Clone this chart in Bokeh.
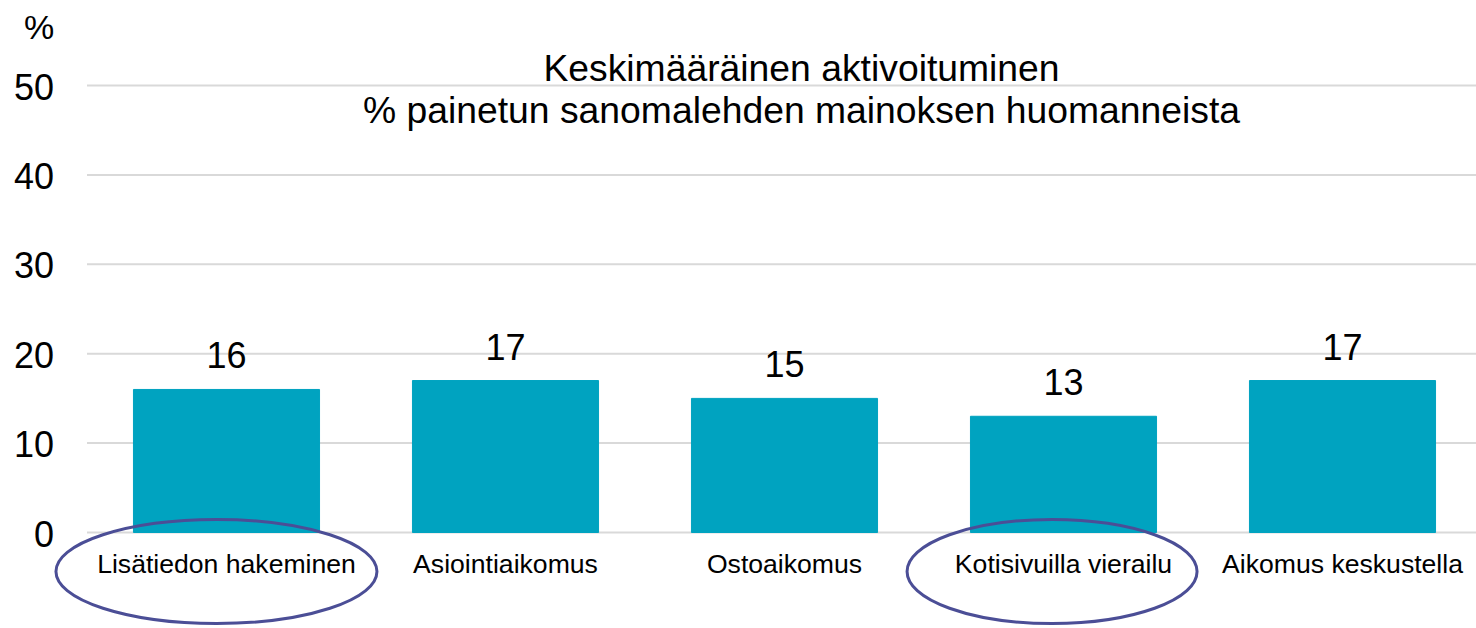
from bokeh.plotting import figure
from bokeh.models import ColumnDataSource, Range1d
from bokeh.core.properties import value
from bokeh.embed import file_html
from bokeh.resources import INLINE

# ---- data ----
categories = ["Lisätiedon hakeminen", "Asiointiaikomus", "Ostoaikomus",
              "Kotisivuilla vierailu", "Aikomus keskustella"]
values = [16, 17, 15, 13, 17]
y_ticks = [0, 10, 20, 30, 40, 50]
title_lines = ["Keskimääräinen aktivoituminen",
               "% painetun sanomalehden mainoksen huomanneista"]
y_unit = "%"
highlighted = ["Lisätiedon hakeminen", "Kotisivuilla vierailu"]

# ---- style ----
FONT = value("Liberation Sans")
BAR = "#00A3C0"
GRID = "#D9D9D9"
RING = "#4B4E96"

W, H = 1476, 628
LEFT, TOP, BOTTOM = 86.5, 85, 96        # pixel margins of the category/value area
px_per_cat = 279.0
ymax = y_ticks[-1]
px_per_y = (H - TOP - BOTTOM) / ymax
x_start = -LEFT / px_per_cat
x_end = x_start + W / px_per_cat

p = figure(width=W, height=H,
           x_range=Range1d(x_start, x_end),
           y_range=Range1d(-BOTTOM / px_per_y, ymax + TOP / px_per_y),
           output_backend="svg", toolbar_location=None,
           min_border=0)
p.axis.visible = False
p.grid.visible = False
p.outline_line_color = None
p.background_fill_color = "white"
p.border_fill_color = "white"

xpos = [i + 0.5 for i in range(len(categories))]

# horizontal gridlines
p.segment(x0=[0] * len(y_ticks), x1=[x_end] * len(y_ticks),
          y0=y_ticks, y1=y_ticks, line_color=GRID, line_width=2)

# y tick labels
p.text(x=[0] * len(y_ticks), y=y_ticks, text=[str(t) for t in y_ticks],
       x_offset=-33, y_offset=1, text_align="right", text_baseline="middle",
       text_font=FONT, text_font_size="36px", text_color="black")

# unit label
p.text(x=[0], y=[ymax], text=[y_unit], x_offset=-63, y_offset=-59,
       text_align="left", text_baseline="middle",
       text_font=FONT, text_font_size="34px", text_color="black")

# bars and value labels
src = ColumnDataSource(dict(x=xpos, val=values, lbl=[str(v) for v in values], cat=categories))
p.vbar(x="x", top="val", width=0.667, color=BAR, source=src)
p.text(x="x", y="val", text="lbl", source=src,
       text_align="center", text_baseline="middle", y_offset=-34,
       text_font=FONT, text_font_size="36px", text_color="black")

# category labels
p.text(x="x", y=0, text="cat", source=src,
       text_align="center", text_baseline="middle", y_offset=31,
       text_font=FONT, text_font_size="26.6px", text_color="black")

# title inside plot area
title_x = (801 - LEFT) / px_per_cat
p.text(x=[title_x, title_x], y=[ymax, ymax], text=title_lines,
       y_offset=[-18, 24], text_align="center", text_baseline="middle",
       text_font=FONT, text_font_size="37.3px", text_color="black")

# highlight rings around category labels
ring_dx = {"Lisätiedon hakeminen": -0.036, "Kotisivuilla vierailu": -0.041}
ring_w = {"Lisätiedon hakeminen": 321, "Kotisivuilla vierailu": 290}
hx = [categories.index(n) + 0.5 + ring_dx[n] for n in highlighted]
p.ellipse(x=hx, y=[-39 / px_per_y] * len(hx),
          width=[ring_w[n] for n in highlighted], height=104,
          width_units="screen", height_units="screen",
          fill_color=None, line_color=RING, line_width=3)

open("out.html", "w").write(file_html(p, INLINE))
